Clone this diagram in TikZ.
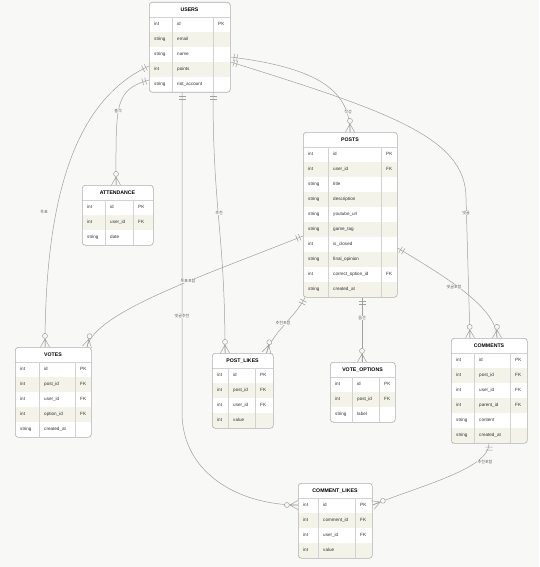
\documentclass[tikz,border=0pt]{standalone}
\usepackage{fontspec}
\setmainfont{Liberation Sans}
\newfontfamily\krfont{Noto Sans CJK KR}
\usetikzlibrary{calc, decorations.markings}
\definecolor{ErBack}{HTML}{F8F8F6}
\definecolor{ErRow}{HTML}{F3F3EA}
\definecolor{ErBorder}{HTML}{AFAFAF}
\definecolor{ErRule}{HTML}{D2D2D2}
\definecolor{ErLine}{HTML}{A0A0A0}
\definecolor{ErText}{HTML}{333333}

% one entity: name, title, x, y, column rules, width, rows, fields
\newcommand\erent[9]{%
  \begin{scope}[shift={(#3,#4)}]
    \begin{scope}
      \clip[rounded corners=3pt] (0,0) rectangle (#7,{15*(#8+1)});
      \fill[white] (0,0) rectangle (#7,{15*(#8+1)});
      \foreach \ty/\fd/\ky [count=\ri] in {#9} {
        \ifodd\ri\else\fill[ErRow] (0,{15*\ri}) rectangle (#7,{15*(\ri+1)});\fi
        \node[fieldtxt] (#1-\ri-a) at (5,{15*\ri+7.5}) {\ty};
        \node[fieldtxt] (#1-\ri-b) at ({#5+5},{15*\ri+7.5}) {\fd};
        \node[fieldtxt] (#1-\ri-c) at ({#6+5},{15*\ri+7.5}) {\ky};
      }
    \end{scope}
    \draw[ErRule, line width=0.5pt] (0,15) -- (#7,15)
      (#5,15) -- (#5,{15*(#8+1)}) (#6,15) -- (#6,{15*(#8+1)});
    \node[entbox, minimum width=#7pt, minimum height={(#8+1)*15pt}, anchor=north west] (#1) at (0,0) {};
    \node[enttitle] (#1-t) at ({#7/2},7.5) {#2};
  \end{scope}
}

\tikzset{
  fieldtxt/.style={anchor=west, inner sep=0pt, text height=3.5pt, text depth=1pt,
    text=ErText, font=\fontsize{4.6}{5}\selectfont},
  enttitle/.style={inner sep=0pt, text height=3.9pt, text depth=0.5pt, text=black,
    font=\fontsize{5.2}{6}\selectfont\bfseries},
  entbox/.style={draw=ErBorder, rounded corners=3pt, line width=0.6pt, inner sep=0pt},
  rel/.style={draw=ErLine, line width=0.5pt},
  onestart/.style={postaction={decorate, decoration={markings,
      mark=at position 0 with {\draw[ErLine, line width=0.5pt] (3.5,-3.5) -- (3.5,3.5) (6.5,-3.5) -- (6.5,3.5);}}}},
  manyend/.style={postaction={decorate, decoration={markings,
      mark=at position -0.1pt with {\draw[ErLine, line width=0.5pt] (0,-4.5) -- (-8,0) -- (0,4.5) (-8,0) -- (0,0);
        \draw[ErLine, line width=0.5pt, fill=ErBack] (-11,0) circle (2.5);}}}},
  rellabel/.style={inner sep=0.6pt, fill=ErBack, text=ErText!80, font=\krfont\fontsize{4}{5}\selectfont}
}

\begin{document}
\begin{tikzpicture}[x=1pt, y=-1pt]
  \fill[ErBack] (0,0) rectangle (539,567);
  \useasboundingbox (0,0) rectangle (539,567);

  % entities
  \erent{users}{USERS}{149}{2}{23}{64}{81}{5}{int/id/PK, string/email/{}, string/name/{}, int/points/{}, string/riot\_account/{}}
  \erent{posts}{POSTS}{303}{132}{25}{78}{94}{10}{int/id/PK, int/user\_id/FK, string/title/{}, string/description/{}, string/youtube\_url/{}, string/game\_tag/{}, int/is\_closed/{}, string/final\_opinion/{}, int/correct\_option\_id/FK, string/created\_at/{}}
  \erent{attendance}{ATTENDANCE}{82}{185}{23}{51}{71}{3}{int/id/PK, int/user\_id/FK, string/date/{}}
  \erent{votes}{VOTES}{15}{347}{24}{60}{76}{5}{int/id/PK, int/post\_id/FK, int/user\_id/FK, int/option\_id/FK, string/created\_at/{}}
  \erent{postlikes}{POST\_LIKES}{212}{353}{16}{43}{61}{4}{int/id/PK, int/post\_id/FK, int/user\_id/FK, int/value/{}}
  \erent{voteoptions}{VOTE\_OPTIONS}{330}{362}{22}{49}{65}{3}{int/id/PK, int/post\_id/FK, string/label/{}}
  \erent{comments}{COMMENTS}{451}{338}{23}{59}{76}{6}{int/id/PK, int/post\_id/FK, int/user\_id/FK, int/parent\_id/FK, string/content/{}, string/created\_at/{}}
  \erent{commentlikes}{COMMENT\_LIKES}{298}{483}{20}{57}{74}{4}{int/id/PK, int/comment\_id/FK, int/user\_id/FK, int/value/{}}

  % connector ends
  \coordinate (u-att) at ($(users.north west)+(0,78)$);
  \coordinate (u-vot) at ($(users.north west)+(0,64)$);
  \coordinate (u-pst) at ($(users.north east)+(0,55)$);
  \coordinate (u-com) at ($(users.north east)+(0,60)$);
  \coordinate (u-plk) at ($(users.south west)+(64,0)$);
  \coordinate (u-clk) at ($(users.south west)+(33,0)$);
  \coordinate (att-u) at ($(attendance.north west)+(34,0)$);
  \coordinate (vot-u) at ($(votes.north west)+(30,0)$);
  \coordinate (vot-p) at ($(votes.north west)+(72,0)$);
  \coordinate (pst-u) at ($(posts.north west)+(47,0)$);
  \coordinate (pst-vot) at ($(posts.north west)+(0,104)$);
  \coordinate (pst-plk) at ($(posts.south west)+(2,0)$);
  \coordinate (pst-opt) at ($(posts.south west)+(59,0)$);
  \coordinate (pst-com) at ($(posts.north east)+(0,116)$);
  \coordinate (plk-u) at ($(postlikes.north west)+(13,0)$);
  \coordinate (plk-p) at ($(postlikes.north east)+(-7,0)$);
  \coordinate (opt-p) at ($(voteoptions.north west)+(32,0)$);
  \coordinate (com-u) at ($(comments.north west)+(19,0)$);
  \coordinate (com-p) at ($(comments.north west)+(46,0)$);
  \coordinate (com-clk) at ($(comments.south west)+(38,0)$);
  \coordinate (clk-u) at ($(commentlikes.north west)+(0,22)$);
  \coordinate (clk-c) at ($(commentlikes.north east)+(0,22)$);

  % relations
  \draw[rel, onestart, manyend] (u-att) .. controls +(-35,10) and +(0,-80) .. (att-u);
  \draw[rel, onestart, manyend] (u-vot) .. controls +(-65,30) and +(0,-170) .. (vot-u);
  \draw[rel, onestart, manyend] (u-pst) .. controls +(80,10) and +(0,-45) .. (pst-u);
  \draw[rel, onestart, manyend] (u-com) .. controls +(160,50) and +(0,-60) .. ($(com-u)+(-4,-140)$) -- (com-u);
  \draw[rel, onestart, manyend] (u-plk) .. controls +(0,120) and +(0,-120) .. (plk-u);
  \draw[rel, onestart, manyend] (u-clk) -- ($(u-clk)+(0,320)$) .. controls +(0,60) and +(-60,0) .. (clk-u);
  \draw[rel, onestart, manyend] (pst-vot) .. controls +(-100,40) and +(8,-35) .. (vot-p);
  \draw[rel, onestart, manyend] (pst-plk) .. controls +(-10,20) and +(5,-20) .. (plk-p);
  \draw[rel, onestart, manyend] (pst-opt) -- (opt-p);
  \draw[rel, onestart, manyend] (pst-com) .. controls +(50,30) and +(0,-30) .. (com-p);
  \draw[rel, onestart, manyend] (com-clk) .. controls +(0,25) and +(50,-20) .. (clk-c);

  % labels
  \node[rellabel] (l-att) at (118,111) {출석};
  \node[rellabel] (l-pst) at (348,112) {작성};
  \node[rellabel] (l-vot) at (44,212) {투표};
  \node[rellabel] (l-com) at (466,213) {댓글};
  \node[rellabel] (l-plk) at (219,213) {추천};
  \node[rellabel] (l-clk) at (182,316) {댓글추천};
  \node[rellabel] (l-pvot) at (188,281) {투표포함};
  \node[rellabel] (l-pplk) at (283,323) {추천포함};
  \node[rellabel] (l-popt) at (362,318) {옵션};
  \node[rellabel] (l-pcom) at (454,287) {댓글포함};
  \node[rellabel] (l-cclk) at (485,462) {추천포함};
\end{tikzpicture}
\end{document}
